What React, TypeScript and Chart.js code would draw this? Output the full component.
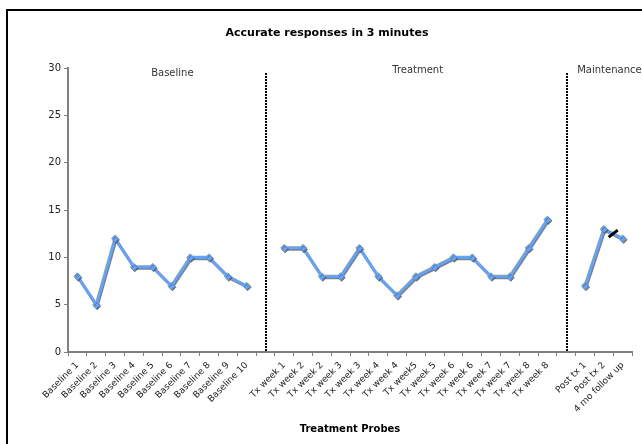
import React, { useEffect, useRef } from "react";
import { Chart, registerables } from "chart.js";

Chart.register(...registerables);

const categories = [
  "Baseline 1", "Baseline 2", "Baseline 3", "Baseline 4", "Baseline 5",
  "Baseline 6", "Baseline 7", "Baseline 8", "Baseline 9", "Baseline 10",
  "",
  "Tx week 1", "Tx week 2", "Tx week 2", "Tx week 3", "Tx week 3",
  "Tx week 4", "Tx week 4", "Tx week5", "Tx week 5", "Tx week 6",
  "Tx week 6", "Tx week 7", "Tx week 7", "Tx week 8", "Tx week 8",
  "",
  "Post tx 1", "Post tx 2", "4 mo follow up",
];
const baselineValues = [8, 5, 12, 9, 9, 7, 10, 10, 8, 7];
const treatmentValues = [11, 11, 8, 8, 11, 8, 6, 8, 9, 10, 10, 8, 8, 11, 14];
const maintenanceValues = [7, 13, 12];
const yTicks = [0, 5, 10, 15, 20, 25, 30];
const phaseLabels = ["Baseline", "Treatment", "Maintenance"];
const chartTitle = "Accurate responses in 3 minutes";
const xAxisTitle = "Treatment Probes";

const BLUE = "#66A3F4";
const FONT = "'DejaVu Sans', Verdana, sans-serif";

export default function App() {
  const ref = useRef<HTMLCanvasElement | null>(null);

  useEffect(() => {
    const canvas = ref.current;
    if (!canvas) return;
    const values: (number | null)[] = [
      ...baselineValues,
      null,
      ...treatmentValues,
      null,
      ...maintenanceValues,
    ];
    const gap1 = baselineValues.length;
    const gap2 = baselineValues.length + 1 + treatmentValues.length;

    const decor = {
      id: "decor",
      beforeDraw(chart: any) {
        const ctx = chart.ctx;
        ctx.save();
        ctx.fillStyle = "#fff";
        ctx.fillRect(0, 0, chart.width, chart.height);
        ctx.strokeStyle = "#000";
        ctx.lineWidth = 2;
        ctx.strokeRect(7, 10, chart.width + 50, chart.height + 50);
        ctx.restore();
      },
      afterDraw(chart: any) {
        const ctx = chart.ctx;
        const xs = chart.scales.x;
        const ys = chart.scales.y;
        const area = chart.chartArea;
        ctx.save();
        // title
        ctx.fillStyle = "#000";
        ctx.font = `bold 11px ${FONT}`;
        ctx.textAlign = "center";
        ctx.textBaseline = "middle";
        ctx.fillText(chartTitle, 327, 33);
        // phase divider lines
        ctx.strokeStyle = "#000";
        ctx.lineWidth = 2;
        ctx.setLineDash([2, 1]);
        [gap1, gap2].forEach((g) => {
          const px = Math.round(xs.getPixelForValue(g)) + 1;
          ctx.beginPath();
          ctx.moveTo(px, area.top + 5);
          ctx.lineTo(px, area.bottom);
          ctx.stroke();
        });
        ctx.setLineDash([]);
        // phase labels
        ctx.font = `10px ${FONT}`;
        ctx.fillStyle = "#333";
        const labelPos = [
          [xs.getPixelForValue(5.05), area.top + 5],
          [xs.getPixelForValue(18.1), area.top + 2],
          [xs.getPixelForValue(28.3), area.top + 2],
        ];
        phaseLabels.forEach((t, i) => {
          ctx.fillText(t, labelPos[i][0], labelPos[i][1]);
        });
        // break mark between last two points
        const n = values.length;
        const x1 = xs.getPixelForValue(n - 2);
        const y1 = ys.getPixelForValue(values[n - 2] as number);
        const x2 = xs.getPixelForValue(n - 1);
        const y2 = ys.getPixelForValue(values[n - 1] as number);
        const mx = (x1 + x2) / 2;
        const my = (y1 + y2) / 2;
        ctx.strokeStyle = "#000";
        ctx.lineWidth = 3;
        ctx.beginPath();
        ctx.moveTo(mx - 4.5, my + 3.5);
        ctx.lineTo(mx + 4.5, my - 3.5);
        ctx.stroke();
        ctx.restore();
      },
    };

    const shadow = {
      id: "shadow",
      beforeDatasetsDraw(chart: any) {
        const ctx = chart.ctx;
        ctx.save();
        ctx.shadowColor = "rgba(90,90,90,0.75)";
        ctx.shadowOffsetX = 1;
        ctx.shadowOffsetY = 1.5;
        ctx.shadowBlur = 0.5;
      },
      afterDatasetsDraw(chart: any) {
        chart.ctx.restore();
      },
    };

    const chart = new Chart(canvas, {
      type: "line",
      data: {
        labels: categories,
        datasets: [
          {
            data: values,
            borderColor: BLUE,
            backgroundColor: BLUE,
            borderWidth: 3,
            pointStyle: "rectRot",
            pointRadius: 3.5,
            pointBorderWidth: 1,
            pointBackgroundColor: BLUE,
            pointBorderColor: BLUE,
            spanGaps: false,
            tension: 0,
          },
        ],
      },
      options: {
        animation: false,
        responsive: false,
        devicePixelRatio: 1,
        layout: { padding: { top: 68, left: 0, right: 10, bottom: 5 } },
        plugins: {
          legend: { display: false },
          title: { display: false },
          tooltip: { enabled: false },
        },
        scales: {
          x: {
            type: "category",
            offset: true,
            grid: {
              offset: true,
              drawOnChartArea: false,
              drawTicks: true,
              tickLength: 4,
              color: "#808080",
            },
            border: { color: "#808080", width: 2 },
            ticks: {
              autoSkip: false,
              minRotation: 45,
              maxRotation: 45,
              padding: 4,
              color: "#222",
              font: { family: FONT, size: 9 },
            },
            title: {
              display: true,
              text: xAxisTitle,
              color: "#000",
              font: { family: FONT, size: 10, weight: "bold" },
              padding: { top: 0, bottom: 4 },
            },
            afterFit(scale: any) {
              scale.height = 444 - 5 - 352;
            },
          },
          y: {
            min: 0,
            max: 30,
            afterBuildTicks(scale: any) {
              scale.ticks = yTicks.map((v) => ({ value: v }));
            },
            grid: {
              drawOnChartArea: false,
              drawTicks: true,
              tickLength: 4,
              color: "#808080",
            },
            border: { color: "#808080", width: 2 },
            ticks: {
              padding: 3,
              color: "#222",
              font: { family: FONT, size: 10 },
            },
            afterFit(scale: any) {
              scale.width = 68;
            },
          },
        },
      },
      plugins: [decor, shadow],
    } as any);

    return () => chart.destroy();
  }, []);

  return (
    <div style={{ position: "fixed", left: 0, top: 0, width: 642, height: 444 }}>
      <canvas ref={ref} width={642} height={444} style={{ display: "block", width: 642, height: 444 }} />
    </div>
  );
}
